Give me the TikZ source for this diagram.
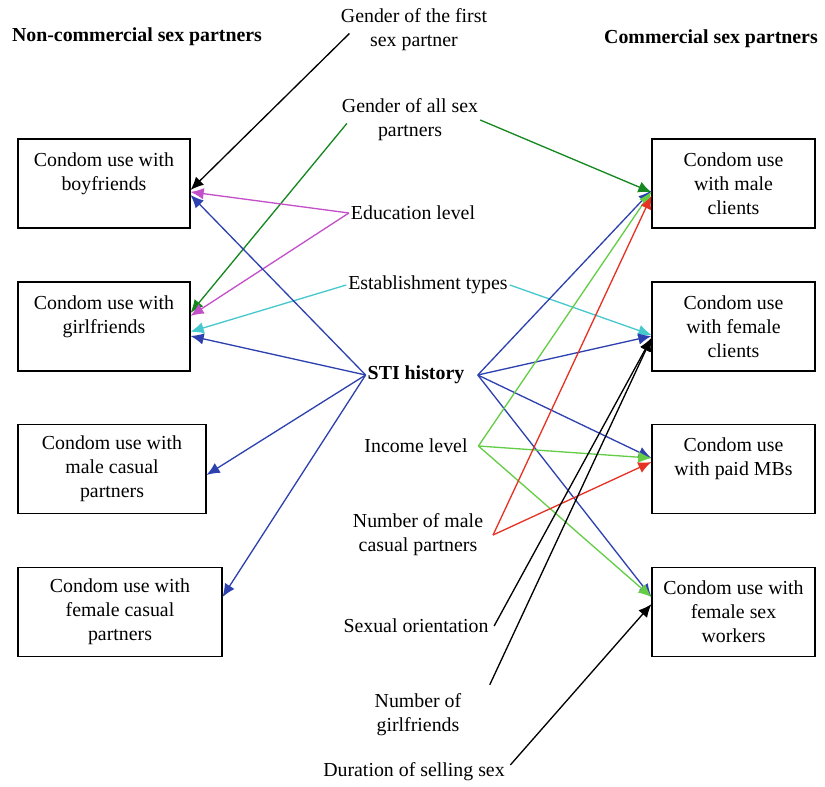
\documentclass[tikz,border=0pt]{standalone}
\usepackage{fontspec}
\setmainfont{Liberation Serif}
\usetikzlibrary{arrows.meta,positioning}
\definecolor{stiblue}{RGB}{45,65,175}
\definecolor{gendgreen}{RGB}{20,135,30}
\definecolor{edumag}{RGB}{195,80,200}
\definecolor{estcyan}{RGB}{70,200,205}
\definecolor{incgreen}{RGB}{100,205,70}
\definecolor{partred}{RGB}{230,50,35}
\tikzset{box/.style={
            draw,
            line width=0.6pt,
            align=center,
            inner sep=0pt,
            minimum height=1.78cm,
            font=\fontsize{11.3}{13.6}\selectfont
        },
        factor/.style={
            align=center,
            inner sep=1pt,
            font=\fontsize{11.3}{13.6}\selectfont
        },
        heading/.style={
            inner sep=1pt,
            font=\bfseries\fontsize{11.3}{13.6}\selectfont
        },
        link/.style={
            line width=0.75pt,
            -{Latex[length=7.5pt,width=6.5pt]}
        }
    }

\begin{document}
\begin{tikzpicture}[x=0.02cm,y=-0.02cm]
        \useasboundingbox (0,0) rectangle (825,787);

        \node[heading] (nctitle) at (137,37) {Non-commercial sex partners};
        \node[heading] (ctitle) at (711,39) {Commercial sex partners};

        % non-commercial partners
        \node[box,minimum width=3.44cm] (bf) at (104,183.5) {Condom use with\\boyfriends\\~};
        \node[box,minimum width=3.44cm] (gf) at (104,326.5) {Condom use with\\girlfriends\\~};
        \node[box,minimum width=3.76cm] (mcas) at (112,469) {Condom use with\\male casual\\partners};
        \node[box,minimum width=4.08cm] (fcas) at (120,612) {Condom use with\\female casual\\partners};

        % commercial partners
        \node[box,minimum width=3.26cm] (mc) at (733.5,183.5) {Condom use\\with male\\clients};
        \node[box,minimum width=3.26cm] (fc) at (733.5,326.5) {Condom use\\with female\\clients};
        \node[box,minimum width=3.26cm] (mb) at (733.5,469) {Condom use\\with paid MBs\\~};
        \node[box,minimum width=3.26cm] (fsw) at (733.5,612) {Condom use with\\female sex\\workers};

        % factors
        \node[factor] (first) at (414,30) {Gender of the first\\sex partner};
        \node[factor] (allsex) at (410,120) {Gender of all sex\\partners};
        \node[factor] (edu) at (413,213) {Education level};
        \node[factor] (est) at (428,285) {Establishment types};
        \node[factor,font=\bfseries\fontsize{11.3}{13.6}\selectfont] (sti) at (416,375) {STI history};
        \node[factor] (inc) at (416,446) {Income level};
        \node[factor] (malecas) at (418,535) {Number of male\\casual partners};
        \node[factor] (orient) at (416,626) {Sexual orientation};
        \node[factor] (girls) at (418,715) {Number of\\girlfriends};
        \node[factor] (dur) at (414,772) {Duration of selling sex};

        \draw[link] ([xshift=6pt,yshift=-2pt]first.west) -- ([yshift=-3.7pt]bf.east);

        \draw[link,gendgreen] ([xshift=4pt,yshift=-2pt]allsex.west) -- ([yshift=7.7pt]gf.east);
        \draw[link,gendgreen] (allsex.east) -- ([yshift=-5pt]mc.west);

        \draw[link,edumag] (edu.west) -- ([yshift=-4.8pt]bf.east);
        \draw[link,edumag] (edu.west) -- ([yshift=6pt]gf.east);

        \draw[link,estcyan] (est.west) -- ([yshift=-3pt]gf.east);
        \draw[link,estcyan] (est.east) -- ([yshift=-4.8pt]fc.west);

        \foreach \t/\s in {bf/-6.5pt,gf/-5.4pt,mcas/-3.4pt,fcas/8.5pt}
            \draw[link,stiblue] (sti.west) -- ([yshift=\s]\t.east);
        \foreach \t/\s in {mc/-4pt,fc/-5.4pt,mb/6.2pt,fsw/8.5pt}
            \draw[link,stiblue] ([xshift=6.5pt]sti.east) -- ([yshift=\s]\t.west);

        \foreach \t/\s in {mc/-4.5pt,mb/6.2pt,fsw/8.5pt}
            \draw[link,incgreen] ([xshift=5pt]inc.east) -- ([yshift=\s]\t.west);

        \foreach \t/\s in {mc/-7pt,mb/4pt}
            \draw[link,partred] ([xshift=4.5pt]malecas.east) -- ([yshift=\s]\t.west);

        \draw[link] ([xshift=2pt]orient.east) -- ([yshift=-6.5pt]fc.west);
        \draw[link] ([xshift=15pt,yshift=4pt]girls.north east) -- ([yshift=-6.5pt]fc.west);
        \draw[link] ([xshift=2pt,yshift=4pt]dur.east) -- ([yshift=4.5pt]fsw.west);

    \end{tikzpicture}
\end{document}
